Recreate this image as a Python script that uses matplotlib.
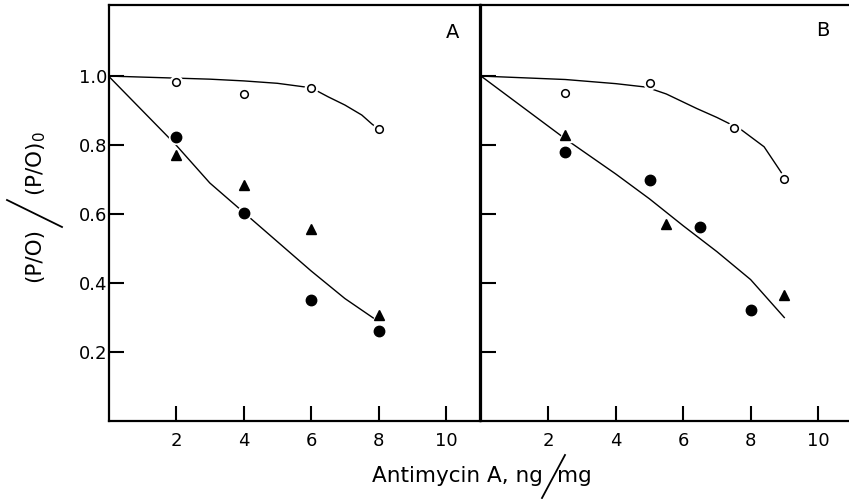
import numpy as np
import matplotlib.pyplot as plt
from matplotlib.lines import Line2D

#%% data
# panel A
a_open_x = [2, 4, 6, 8]
a_open_y = [0.983, 0.947, 0.966, 0.846]
a_dot_x = [2, 4, 6, 8]
a_dot_y = [0.824, 0.604, 0.351, 0.262]
a_tri_x = [2, 4, 6, 8]
a_tri_y = [0.772, 0.685, 0.558, 0.308]
a_curve_x = [0, 1, 2, 3, 4, 5, 6, 6.5, 7, 7.5, 7.8, 8]
a_curve_y = [1.0, 0.997, 0.994, 0.991, 0.986, 0.979, 0.966, 0.94, 0.916, 0.887, 0.861, 0.846]
a_line_x = [0, 1, 2, 3, 4, 5, 6, 7, 7.85]
a_line_y = [1.0, 0.90, 0.80, 0.69, 0.605, 0.52, 0.435, 0.355, 0.298]

# panel B
b_open_x = [2.5, 5, 7.5, 9]
b_open_y = [0.95, 0.979, 0.85, 0.703]
b_dot_x = [2.5, 5, 6.5, 8]
b_dot_y = [0.779, 0.698, 0.562, 0.323]
b_tri_x = [2.5, 5.5, 9]
b_tri_y = [0.828, 0.572, 0.364]
b_curve_x = [0, 2.5, 4.0, 4.9, 5.5, 6.4, 7.0, 7.7, 8.4, 8.9, 9.0]
b_curve_y = [1.0, 0.99, 0.978, 0.968, 0.948, 0.906, 0.88, 0.846, 0.795, 0.722, 0.705]
b_line_x = [0, 2.5, 4, 5, 6, 7, 8, 9]
b_line_y = [1.0, 0.818, 0.716, 0.644, 0.566, 0.491, 0.41, 0.30]

yticks = [0.2, 0.4, 0.6, 0.8, 1.0]
ytick_labels = ['0.2', '0.4', '0.6', '0.8', '1.0']
xticks = [2, 4, 6, 8, 10]
xtick_labels = ['2', '4', '6', '8', '10']

plt.rcParams['font.family'] = ['DejaVu Sans']

#%% figure
fig = plt.figure(figsize=(8.49, 4.99), dpi=100)
W, H = 849.0, 499.0
axA = fig.add_axes([108.5 / W, 1 - 421 / H, (480 - 108.5) / W, 416 / H])
axB = fig.add_axes([481 / W, 1 - 421 / H, (849 - 481) / W, 416 / H])


def panel(ax, ox, oy, dx, dy, tx, ty, cx, cy, lx, ly, xmax, letter, lpos):
    ax.plot(cx, cy, color='black', lw=1.0, zorder=2)
    ax.plot(lx, ly, color='black', lw=1.0, zorder=2)
    # white halos so the lines break around the symbols
    ax.plot(ox, oy, 'o', ms=9, color='white', zorder=3)
    ax.plot(dx, dy, 'o', ms=10, color='white', zorder=3)
    ax.plot(tx, ty, '^', ms=10, color='white', zorder=3)
    ax.plot(ox, oy, 'o', ms=5.5, mfc='white', mec='black', mew=1.1, zorder=4)
    ax.plot(dx, dy, 'o', ms=7.5, color='black', zorder=4)
    ax.plot(tx, ty, '^', ms=7.5, color='black', zorder=4)
    ax.set_xlim(0, xmax)
    ax.set_ylim(0, 1.206)
    ax.set_xticks(xticks)
    ax.set_xticklabels(xtick_labels)
    ax.set_yticks(yticks)
    ax.tick_params(direction='in', length=11, width=1.5, labelsize=13)
    ax.tick_params(axis='x', pad=8)
    ax.tick_params(axis='y', pad=1)
    for s in ax.spines.values():
        s.set_linewidth(1.6)
    ax.text(lpos[0], lpos[1], letter, fontsize=14, ha='center', va='center')


panel(axA, a_open_x, a_open_y, a_dot_x, a_dot_y, a_tri_x, a_tri_y,
      a_curve_x, a_curve_y, a_line_x, a_line_y, 11.0, 'A', (10.18, 1.125))
panel(axB, b_open_x, b_open_y, b_dot_x, b_dot_y, b_tri_x, b_tri_y,
      b_curve_x, b_curve_y, b_line_x, b_line_y, 368 / 33.7, 'B', (10.15, 1.133))

axA.set_yticklabels(ytick_labels)
axB.set_yticklabels([])
axB.spines['right'].set_visible(False)

#%% axis labels with the big slashes
fig.text(34 / W, 1 - 255 / H, '(P/O)', rotation=90, fontsize=15.5, ha='center', va='center')
fig.text(36 / W, 1 - 164 / H, r'(P/O)$_0$', rotation=90, fontsize=15.5, ha='center', va='center')
fig.add_artist(Line2D([7 / W, 62 / W], [1 - 200 / H, 1 - 227 / H],
                      transform=fig.transFigure, color='black', lw=1.3))

fig.text(543 / W, 1 - 476 / H, 'Antimycin A, ng', fontsize=15.5, ha='right', va='center')
fig.text(557 / W, 1 - 476 / H, 'mg', fontsize=15.5, ha='left', va='center')
fig.add_artist(Line2D([542 / W, 565 / W], [1 - 498 / H, 1 - 455 / H],
                      transform=fig.transFigure, color='black', lw=1.3))

fig.savefig('out.png', dpi=100)
